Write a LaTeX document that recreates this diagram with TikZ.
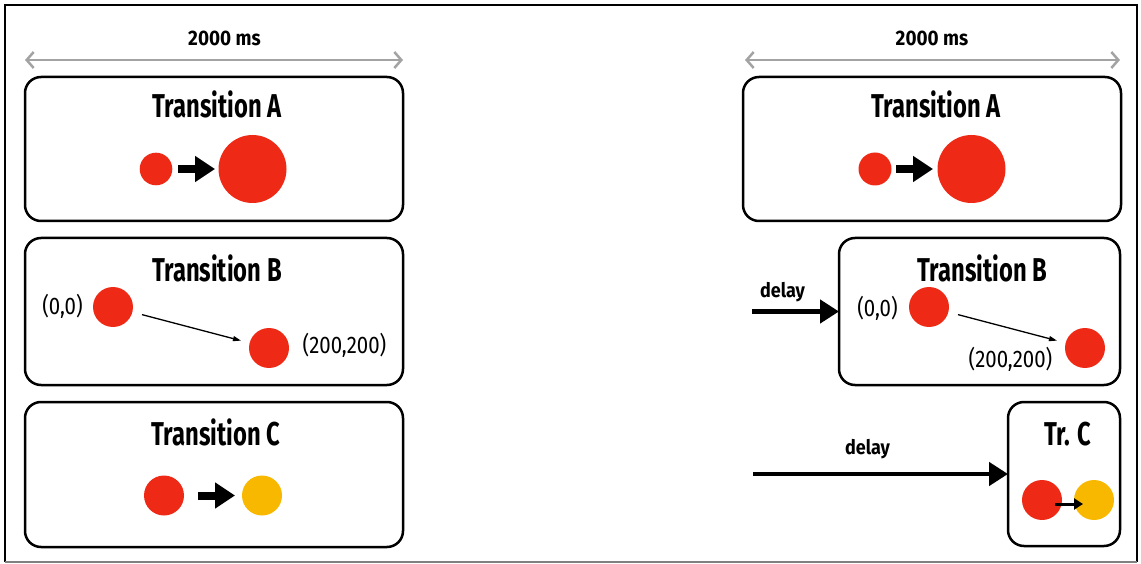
\documentclass[tikz,border=0pt]{standalone}
\usepackage{fontspec}
\setmainfont{Fira Sans}
\newfontfamily\condfont{Fira Sans}[FakeStretch=0.72]
\newfontfamily\semicond{Fira Sans}[FakeStretch=0.9]
\newfontfamily\condreg{Fira Sans}[FakeStretch=0.85]
\usetikzlibrary{arrows.meta}
\definecolor{dotred}{HTML}{EE2A16}
\definecolor{dotyellow}{HTML}{F9B800}
\definecolor{dimgray}{HTML}{A3A3A3}
\begin{document}
\begin{tikzpicture}[x=1pt,y=-1pt,
  box/.style={draw=black, line width=2.5pt, rounded corners=16pt, inner sep=0pt, outer sep=0pt},
  titletext/.style={font=\condfont\bfseries\fontsize{33}{33}\selectfont, anchor=base, inner sep=0pt},
  dimtext/.style={font=\semicond\bfseries\fontsize{21}{21}\selectfont, anchor=base, inner sep=0pt},
  delaytext/.style={font=\semicond\bfseries\fontsize{20}{20}\selectfont, inner sep=0pt},
  coordtext/.style={font=\condreg\fontsize{24}{24}\selectfont, inner sep=0pt},
  dot/.style={circle, inner sep=0pt, outer sep=0pt, draw=none},
  reddot/.style={dot, fill=dotred},
  yellowdot/.style={dot, fill=dotyellow},
  dimarrow/.style={draw=dimgray, line width=2.5pt, {Straight Barb[length=7pt,width=16pt]}-{Straight Barb[length=7pt,width=16pt]}},
  blockarrow/.style={line width=8pt, -{Triangle[length=20pt,width=25pt]}},
  delayarrow/.style={line width=4.5pt, -{Triangle[length=19pt,width=23pt]}},
  thinarrow/.style={line width=1.3pt, -{Triangle[length=8pt,width=5pt]}},
  smallarrow/.style={line width=3pt, -{Triangle[length=9pt,width=11pt]}}
]
\useasboundingbox (0,0) rectangle (1141,564);
% outer frame
\draw[line width=2pt] (5,562) -- (5,5) -- (1137,5) -- (1137,562);
\draw[gray, line width=1.5pt] (5,562) -- (1137,562);

% ---------- left column ----------
\coordinate (ldL) at (25,60);
\coordinate (ldR) at (403,60);
\draw[dimarrow] (ldL) -- (ldR);
\node[dimtext] (ldT) at (224.5,45.5) {2000 ms};

\node[box, minimum width=378pt, minimum height=144pt] (lA) at (214,149) {};
\node[titletext] (lAt) at (217,118) {Transition A};
\node[reddot, minimum size=32.6pt] (lAs) at (156,169) {};
\node[reddot, minimum size=68pt] (lAb) at (252.5,169) {};
\draw[blockarrow] ([xshift=6pt]lAs.east) -- ([xshift=-3.5pt]lAb.west);

\node[box, minimum width=378pt, minimum height=147pt] (lB) at (214,311.5) {};
\node[titletext] (lBt) at (217,282) {Transition B};
\node[reddot, minimum size=40pt] (lB1) at (113,307) {};
\node[reddot, minimum size=40pt] (lB2) at (269,348) {};
\node[coordtext] (lB1l) at (62.5,306) {(0,0)};
\node[coordtext] (lB2l) at (344.5,345.5) {(200,200)};
\draw[thinarrow, shorten <=10pt, shorten >=9pt] (lB1) -- (lB2);

\node[box, minimum width=378pt, minimum height=145pt] (lC) at (214,474.5) {};
\node[titletext] (lCt) at (216,445) {Transition C};
\node[reddot, minimum size=40pt] (lC1) at (164,495.5) {};
\node[yellowdot, minimum size=40pt] (lC2) at (262,495.5) {};
\draw[blockarrow] ([xshift=14pt]lC1.east) -- ([xshift=-7pt]lC2.west);

% ---------- right column ----------
\coordinate (rdL) at (745,60);
\coordinate (rdR) at (1120,60);
\draw[dimarrow] (rdL) -- (rdR);
\node[dimtext] (rdT) at (932,45.5) {2000 ms};

\node[box, minimum width=378pt, minimum height=144pt] (rA) at (932,149) {};
\node[titletext] (rAt) at (936,118) {Transition A};
\node[reddot, minimum size=33pt] (rAs) at (875,169) {};
\node[reddot, minimum size=68pt] (rAb) at (971.5,169) {};
\draw[blockarrow] ([xshift=4.5pt]rAs.east) -- ([xshift=-4.5pt]rAb.west);

\node[box, minimum width=281pt, minimum height=147pt] (rB) at (979.5,311.5) {};
\node[titletext] (rBt) at (982.5,282) {Transition B};
\node[reddot, minimum size=40pt] (rB1) at (929,307) {};
\node[reddot, minimum size=40pt] (rB2) at (1085,348) {};
\node[coordtext] (rB1l) at (877.5,308) {(0,0)};
\node[coordtext] (rB2l) at (1010.5,359.5) {(200,200)};
\draw[thinarrow, shorten <=10pt, shorten >=9pt] (rB1) -- (rB2);
\coordinate (rd1) at (752,311.5);
\draw[delayarrow] (rd1) -- (rB.west);
\node[delaytext] (rd1t) at (782.5,292.5) {delay};

\node[box, minimum width=112pt, minimum height=144pt] (rC) at (1064,474) {};
\node[titletext] (rCt) at (1068,445) {Tr. C};
\node[reddot, minimum size=40pt] (rC1) at (1042,500) {};
\node[yellowdot, minimum size=40pt] (rC2) at (1094,500) {};
\draw[smallarrow] ([xshift=13pt,yshift=-4pt]rC1.center) -- ([xshift=-11pt,yshift=-4pt]rC2.center);
\coordinate (rd2) at (753,474);
\draw[delayarrow] (rd2) -- (rC.west);
\node[delaytext] (rd2t) at (867.5,449) {delay};
\end{tikzpicture}
\end{document}
